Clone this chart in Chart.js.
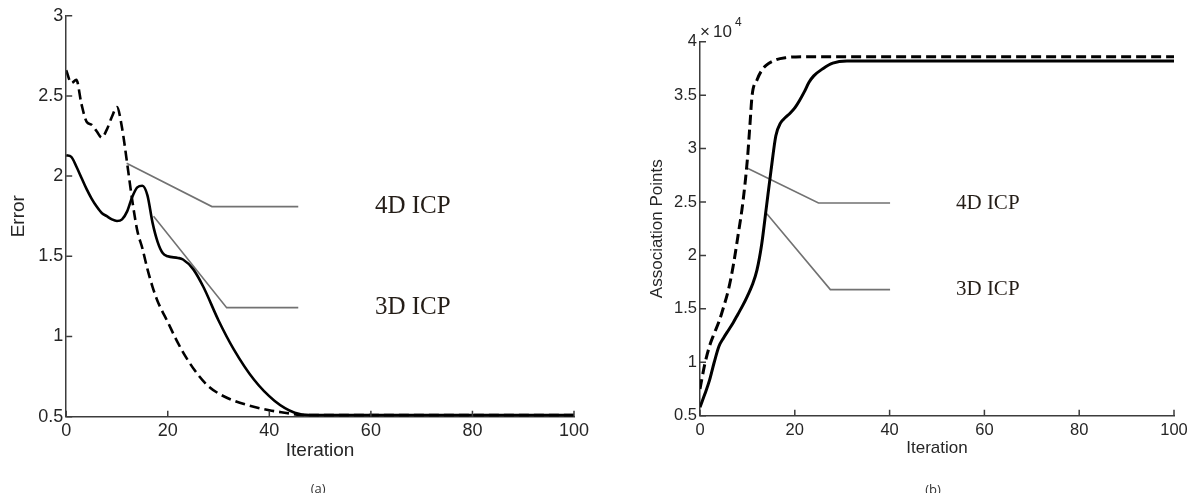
<!DOCTYPE html>
<html>
<head>
<meta charset="utf-8">
<script src="https://cdn.jsdelivr.net/npm/chart.js@4.4.0/dist/chart.umd.min.js"></script>
<style>
  html, body { margin: 0; padding: 0; background: #fff; }
  #wrap { position: relative; width: 1196px; height: 493px; overflow: hidden; }
  canvas { position: absolute; top: 0; }
  #errorChart { left: 0; }
  #assocChart { left: 600px; }
</style>
</head>
<body>
<div id="wrap">
  <canvas id="errorChart" width="600" height="493"></canvas>
  <canvas id="assocChart" width="596" height="493"></canvas>
</div>
<script>
// (a) error per iteration
const errIter4D = [0, 1, 2, 3, 4, 5, 6, 7, 8, 9, 10, 11, 12, 13, 14, 15, 16, 17, 18, 20, 22, 24, 26, 28, 30, 33, 36, 40, 43, 46, 50, 60, 100];
const errVal4D = [2.66, 2.58, 2.60, 2.45, 2.34, 2.32, 2.28, 2.24, 2.29, 2.37, 2.43, 2.30, 2.08, 1.85, 1.66, 1.55, 1.42, 1.31, 1.22, 1.09, 0.96, 0.85, 0.76, 0.69, 0.645, 0.60, 0.57, 0.54, 0.525, 0.512, 0.51, 0.51, 0.51];
const errIter3D = [0, 1, 2, 3, 4, 5, 6, 7, 8, 9, 10, 11, 12, 13, 14, 15, 16, 17, 18, 19, 20, 22, 23, 25, 27, 30, 33, 37, 41, 45, 48, 60, 100];
const errVal3D = [2.13, 2.12, 2.06, 1.99, 1.92, 1.86, 1.81, 1.77, 1.75, 1.73, 1.72, 1.73, 1.78, 1.87, 1.93, 1.94, 1.88, 1.71, 1.59, 1.52, 1.50, 1.49, 1.48, 1.42, 1.31, 1.10, 0.92, 0.73, 0.60, 0.525, 0.51, 0.51, 0.51];

// (b) association points per iteration
const assocIter4D = [0, 1, 2, 3, 4, 5, 6, 7, 8, 9, 10, 10.5, 11, 12, 13, 14, 16, 18, 22, 100];
const assocVal4D = [7500, 9800, 11500, 12700, 13800, 15200, 16800, 19000, 21800, 24800, 29000, 32000, 35000, 36400, 37300, 37800, 38300, 38500, 38600, 38600];
const assocIter3D = [0, 1, 2, 3, 4, 5, 6, 7, 8, 9, 10, 11, 12, 13, 14, 15, 16, 17, 18, 19, 20, 21, 22, 23, 24, 26, 28, 31, 100];
const assocVal3D = [5800, 7000, 8300, 10000, 11500, 12300, 13000, 13700, 14500, 15300, 16200, 17200, 18600, 21000, 24500, 28000, 31200, 32400, 32900, 33300, 33800, 34500, 35300, 36200, 36800, 37500, 38000, 38200, 38200];

// leader lines from the curves to the labels
const errLeadX4D = [11.9, 28.7, 45.7];
const errLeadY4D = [2.08, 1.81, 1.81];
const errLeadX3D = [17.2, 31.6, 45.7];
const errLeadY3D = [1.75, 1.18, 1.18];
const assocLeadX4D = [9.8, 25.0, 40.1];
const assocLeadY4D = [28200, 24900, 24900];
const assocLeadX3D = [14.1, 27.5, 40.1];
const assocLeadY3D = [23900, 16800, 16800];

const seriesNames = ['4D ICP', '3D ICP'];

// tick values
const iterTicks = [0, 20, 40, 60, 80, 100];
const errorTicks = [0.5, 1, 1.5, 2, 2.5, 3];
const assocTicks = [5000, 10000, 15000, 20000, 25000, 30000, 35000, 40000];

const axisColor = '#3c3c3c';
const textColor = '#262626';

function toPoints(xs, ys) {
    return xs.map((x, i) => ({ x: x, y: ys[i] }));
}

function curve(xs, ys, dashed, width) {
    return {
        data: toPoints(xs, ys),
        borderColor: '#000',
        borderWidth: width,
        borderDash: dashed ? [10, 5] : [],
        pointRadius: 0,
        cubicInterpolationMode: 'monotone',
        fill: false
    };
}

function leader(xs, ys) {
    return {
        data: toPoints(xs, ys),
        borderColor: '#727272',
        borderWidth: 1.6,
        pointRadius: 0,
        tension: 0,
        fill: false
    };
}

// inward tick marks, series labels, caption and exponent
const figureDecor = {
    id: 'figureDecor',
    afterDraw(chart, args, opts) {
        const ctx = chart.ctx;
        const area = chart.chartArea;
        const xs = chart.scales.x;
        const ys = chart.scales.y;
        ctx.save();
        ctx.strokeStyle = axisColor;
        ctx.lineWidth = 1.5;
        ctx.beginPath();
        xs.ticks.forEach(t => {
            const px = xs.getPixelForValue(t.value);
            ctx.moveTo(px, area.bottom);
            ctx.lineTo(px, area.bottom - 6);
        });
        ys.ticks.forEach(t => {
            const py = ys.getPixelForValue(t.value);
            ctx.moveTo(area.left, py);
            ctx.lineTo(area.left + 6, py);
        });
        ctx.stroke();

        ctx.fillStyle = '#241d17';
        ctx.textBaseline = 'middle';
        ctx.textAlign = 'left';
        ctx.font = opts.labelFont;
        opts.labels.forEach(l => {
            ctx.fillText(l.text, xs.getPixelForValue(l.x), ys.getPixelForValue(l.y));
        });

        ctx.fillStyle = '#333';
        ctx.textAlign = 'center';
        ctx.font = '13px "Open Sans"';
        ctx.fillText(opts.caption, (area.left + area.right) / 2 + opts.captionShift, opts.captionY);

        if (opts.exponent) {
            ctx.fillStyle = textColor;
            ctx.textAlign = 'left';
            ctx.textBaseline = 'alphabetic';
            ctx.font = '17px "Liberation Sans"';
            ctx.fillText('\u00d7', area.left, 37);
            ctx.fillText('10', area.left + 13, 37);
            ctx.font = '12px "Liberation Sans"';
            ctx.fillText('4', area.left + 35, 26);
        }
        ctx.restore();
    }
};

function makeScales(yTicks, yMin, yMax, yTitle, sizes, yFormat) {
    return {
        x: {
            type: 'linear',
            min: 0,
            max: 100,
            afterBuildTicks: s => { s.ticks = iterTicks.map(v => ({ value: v })); },
            afterFit: s => { s.height = sizes.xHeight; },
            grid: { display: false, drawTicks: false },
            border: { display: true, color: axisColor, width: 1.5 },
            ticks: {
                color: textColor,
                font: { family: 'Liberation Sans', size: sizes.tickSize },
                padding: sizes.xTickPad,
                maxRotation: 0,
                autoSkip: false
            },
            title: {
                display: true,
                text: 'Iteration',
                color: textColor,
                font: { family: 'Liberation Sans', size: sizes.xTitleSize },
                padding: { top: 0, bottom: sizes.xTitlePad }
            }
        },
        y: {
            type: 'linear',
            min: yMin,
            max: yMax,
            afterBuildTicks: s => { s.ticks = yTicks.map(v => ({ value: v })); },
            afterFit: s => { s.width = sizes.yWidth; },
            grid: { display: false, drawTicks: false },
            border: { display: true, color: axisColor, width: 1.5 },
            ticks: {
                color: textColor,
                font: { family: 'Liberation Sans', size: sizes.tickSize },
                padding: 3,
                callback: yFormat
            },
            title: {
                display: true,
                text: yTitle,
                color: textColor,
                font: { family: 'Liberation Sans', size: sizes.yTitleSize },
                padding: { top: sizes.yTitlePad, bottom: 0 }
            }
        }
    };
}

new Chart(document.getElementById('errorChart'), {
    type: 'line',
    data: {
        datasets: [
            curve(errIter3D, errVal3D, false, 2.6),
            curve(errIter4D, errVal4D, true, 2.6),
            leader(errLeadX4D, errLeadY4D),
            leader(errLeadX3D, errLeadY3D)
        ]
    },
    options: {
        responsive: false,
        animation: false,
        layout: { padding: { left: 0, top: 15.7, right: 26, bottom: 0 } },
        scales: makeScales(errorTicks, 0.5, 3, 'Error',
            { xHeight: 76.3, yWidth: 66.2, tickSize: 18, xTickPad: 3.5, xTitleSize: 19, xTitlePad: 30.6, yTitleSize: 19, yTitlePad: 7 },
            v => String(v)),
        plugins: {
            legend: { display: false },
            tooltip: { enabled: false },
            figureDecor: {
                labelFont: '25px "Liberation Serif"',
                labels: [
                    { text: seriesNames[0], x: 60.8, y: 1.81 },
                    { text: seriesNames[1], x: 60.8, y: 1.18 }
                ],
                caption: '(a)',
                captionShift: -2,
                captionY: 489,
                exponent: false
            }
        }
    },
    plugins: [figureDecor]
});

new Chart(document.getElementById('assocChart'), {
    type: 'line',
    data: {
        datasets: [
            curve(assocIter3D, assocVal3D, false, 3),
            curve(assocIter4D, assocVal4D, true, 3),
            leader(assocLeadX4D, assocLeadY4D),
            leader(assocLeadX3D, assocLeadY3D)
        ]
    },
    options: {
        responsive: false,
        animation: false,
        layout: { padding: { left: 0, top: 41.7, right: 22, bottom: 0 } },
        scales: makeScales(assocTicks, 5000, 40000, 'Association Points',
            { xHeight: 77.3, yWidth: 100, tickSize: 16.5, xTickPad: 4.5, xTitleSize: 17, xTitlePad: 34.8, yTitleSize: 17, yTitlePad: 47.5 },
            v => String(v / 10000)),
        plugins: {
            legend: { display: false },
            tooltip: { enabled: false },
            figureDecor: {
                labelFont: '21px "Liberation Serif"',
                labels: [
                    { text: seriesNames[0], x: 54, y: 24900 },
                    { text: seriesNames[1], x: 54, y: 16800 }
                ],
                caption: '(b)',
                captionShift: -4,
                captionY: 490,
                exponent: true
            }
        }
    },
    plugins: [figureDecor]
});
</script>
</body>
</html>
